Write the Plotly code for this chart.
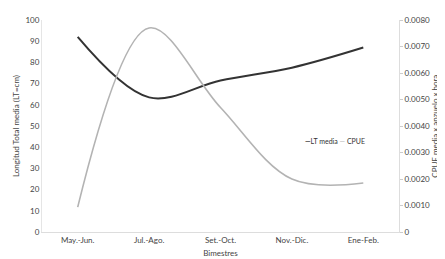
import plotly.graph_objects as go

categories = ["May.-Jun.", "Jul.-Ago.", "Set.-Oct.", "Nov.-Dic.", "Ene-Feb."]
lt_media = [92, 63.5, 71.5, 77.5, 87]
cpue = [0.00094, 0.0077, 0.0047, 0.0020, 0.00185]
left_ticks = [0, 10, 20, 30, 40, 50, 60, 70, 80, 90, 100]
right_ticks = [0, 0.001, 0.002, 0.003, 0.004, 0.005, 0.006, 0.007, 0.008]
right_labels = ["0", "0.0010", "0.0020", "0.0030", "0.0040", "0.0050", "0.0060", "0.0070", "0.0080"]

font = dict(family="Lato, Open Sans, sans-serif", size=8, color="#444444")

fig = go.Figure()
fig.add_trace(go.Scatter(x=categories, y=lt_media, name="LT media", mode="lines",
                         line=dict(color="#333333", width=2, shape="spline", smoothing=1.0)))
fig.add_trace(go.Scatter(x=categories, y=cpue, name="CPUE", mode="lines", yaxis="y2",
                         line=dict(color="#b3b3b3", width=1.6, shape="spline", smoothing=1.0)))

fig.add_annotation(
    xref="paper", yref="paper", x=0.73, y=0.43, xanchor="left", yanchor="middle",
    showarrow=False, font=dict(size=7, color="#333333"),
    text="<span style='color:#333333'><b>—</b></span>LT media <span style='color:#b3b3b3'>—</span> CPUE",
)
fig.add_annotation(
    xref="paper", yref="paper", x=1.10, y=0.5, xanchor="center", yanchor="middle",
    showarrow=False, textangle=-90, font=dict(size=8, color="#444444"),
    text="CPUE media x anzuelo x hora",
)

fig.update_layout(
    width=445, height=259,
    margin=dict(l=34, r=54, t=12, b=35),
    paper_bgcolor="white", plot_bgcolor="white",
    font=font,
    showlegend=False,
    xaxis=dict(type="category", showgrid=False, showline=True, linecolor="#dddddd",
               linewidth=1, ticks="", tickfont=dict(size=8), automargin=False,
               title=dict(text="Bimestres", font=dict(size=8), standoff=6),
               range=[-0.5, 4.5]),
    yaxis=dict(range=[0, 100], tickvals=left_ticks, showgrid=False, showline=True,
               linecolor="#e5e5e5", ticks="", tickfont=dict(size=8), zeroline=False,
               automargin=False,
               title=dict(text="Longitud Total media (LT=cm)", font=dict(size=8), standoff=4)),
    yaxis2=dict(range=[0, 0.008], tickvals=right_ticks, ticktext=right_labels,
                overlaying="y", side="right", showgrid=False, showline=True,
                linecolor="#dddddd", ticks="outside", ticklen=3, tickcolor="#cccccc",
                tickfont=dict(size=8), zeroline=False, automargin=False),
)

fig.write_html("out.html")
